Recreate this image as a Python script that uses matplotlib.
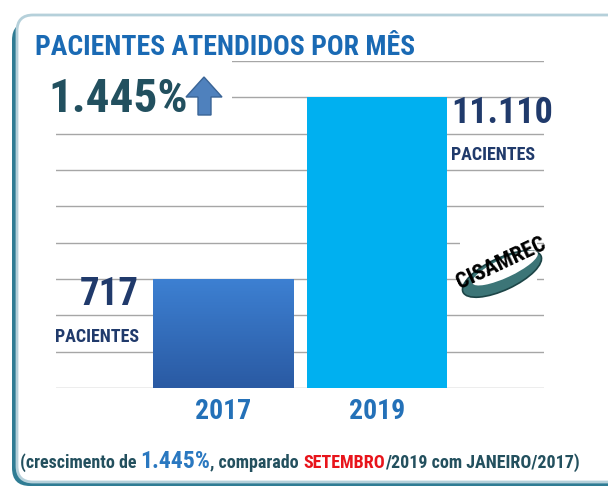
import numpy as np
import matplotlib
matplotlib.use('Agg')
import matplotlib.pyplot as plt
import matplotlib.patches as mpatches
from matplotlib import font_manager
from matplotlib.transforms import Affine2D
from matplotlib.colors import LinearSegmentedColormap

# data
years = ['2017', '2019']
patients = ['717', '11.110']
bar_levels = [3, 8]          # bar heights on the grid (chart is not to scale)
growth = '1.445%'
title = 'PACIENTES ATENDIDOS POR MÊS'
unit = 'PACIENTES'
foot_parts = ['(crescimento de ', '1.445%', ', comparado ', 'SETEMBRO', '/2019 com JANEIRO/2017)']
foot_colors = ['#23505e', '#2a78c0', '#23505e', '#e8141b', '#23505e']
foot_sizes = [13, 17, 13, 13, 13]


def pick_font(names):
    for n in names:
        try:
            font_manager.findfont(font_manager.FontProperties(family=n), fallback_to_default=False)
            return n
        except ValueError:
            pass
    return 'DejaVu Sans'


NARROW = pick_font(['Liberation Sans Narrow', 'Roboto Condensed', 'DejaVu Sans'])

W, H = 608, 487
fig = plt.figure(figsize=(W / 100, H / 100), dpi=100)
fig.patch.set_facecolor('white')
# pixel coords, origin top-left
pxt = Affine2D().scale(1 / W, -1 / H).translate(0, 1) + fig.transFigure

# frame
fig.patches.append(mpatches.FancyBboxPatch((12, 22), 640, 464, boxstyle='round,pad=0,rounding_size=18',
                                           fc='#2f7c94', ec='none', transform=pxt, zorder=-3))
fig.patches.append(mpatches.FancyBboxPatch((17, 15), 640, 467, boxstyle='round,pad=0,rounding_size=16',
                                           fc='white', ec='#b5d0da', lw=2, transform=pxt, zorder=-2))

ax = fig.add_axes([56 / W, 1 - 388 / H, 488 / W, 327 / H])
ax.patch.set_visible(False)
x = np.arange(len(years))
bars = ax.bar(x, bar_levels, width=0.91, color=['#2f66b3', '#00b0f0'], zorder=2)

# gradient on the 2017 bar
b = bars[0]
grad = np.linspace(0, 1, 256).reshape(-1, 1)
cmap = LinearSegmentedColormap.from_list('bar17', ['#2a5aa3', '#3d80d2'])
im = ax.imshow(grad, extent=[b.get_x(), b.get_x() + b.get_width(), 0, b.get_height()],
               origin='lower', cmap=cmap, aspect='auto', zorder=2.1)
im.set_clip_path(b)

ax.set_xlim(-1.084, 2.084)
ax.set_ylim(0, 9)
ax.set_yticks(range(10))
ax.yaxis.grid(True, color='#a6a6a6', lw=1)
ax.set_axisbelow(True)
ax.tick_params(axis='y', left=False, labelleft=False)
for s in ax.spines.values():
    s.set_visible(False)
ax.set_xticks(x, years)
ax.tick_params(axis='x', length=0, pad=7, labelsize=20, labelcolor='#2471b8')
for lbl in ax.get_xticklabels():
    lbl.set_fontweight('bold')
    lbl.set_family(NARROW)

for i, b in enumerate(bars):
    if i == 0:
        xe, ha, dx, fs = b.get_x(), 'right', -10, 28
    else:
        xe, ha, dx, fs = b.get_x() + b.get_width(), 'left', 3, 26
    ax.annotate(patients[i], (xe, b.get_height()), xytext=(dx, 2), textcoords='offset points',
                ha=ha, va='top', fontsize=fs, fontweight='bold', color='#203a6b', family=NARROW)
    ax.annotate(unit, (xe, b.get_height()), xytext=(dx, -35), textcoords='offset points',
                ha=ha, va='top', fontsize=13, fontweight='bold', color='#203a6b', family=NARROW)

# title
fig.text(35, 55, title, transform=pxt, fontsize=20, fontweight='bold', color='#1a6ab4', family=NARROW)

# big growth figure with arrow (white box hides the grid behind it)
fig.patches.append(mpatches.Rectangle((50, 55), 182, 65, fc='white', ec='none', transform=pxt, zorder=1))
fig.text(48, 112, growth, transform=pxt, fontsize=34, fontweight='bold', color='#22505f',
         family=NARROW, zorder=3)
arrow = [(204, 77), (222, 97), (211, 97), (211, 115), (198, 115), (198, 97), (186, 97)]
fig.patches.append(mpatches.Polygon(arrow, closed=True, fc='#4f81bd', ec='#3a6496', lw=1,
                                    transform=pxt, zorder=2))

# logo
fig.patches.append(mpatches.Rectangle((460, 233), 77, 67, fc='white', ec='none', transform=pxt, zorder=1))
fig.patches.append(mpatches.Ellipse((502, 274), 86, 32, angle=-25, fc='#3c7577', ec='#1d4547', lw=1.2,
                                    transform=pxt, zorder=2))
fig.patches.append(mpatches.Ellipse((505, 268), 72, 19, angle=-25, fc='white', ec='none',
                                    transform=pxt, zorder=2))
fig.text(501, 263, 'CISAMREC', transform=pxt, fontsize=16, fontweight='bold', color='black',
         family=NARROW, rotation=25, ha='center', va='center', zorder=3)

# footer
r = fig.canvas.get_renderer()
xpos = 20
for s, c, fs in zip(foot_parts, foot_colors, foot_sizes):
    t = fig.text(xpos, 468, s, transform=pxt, fontsize=fs, fontweight='bold', color=c, family=NARROW)
    xpos += t.get_window_extent(renderer=r).width

fig.savefig('out.png', dpi=100)
